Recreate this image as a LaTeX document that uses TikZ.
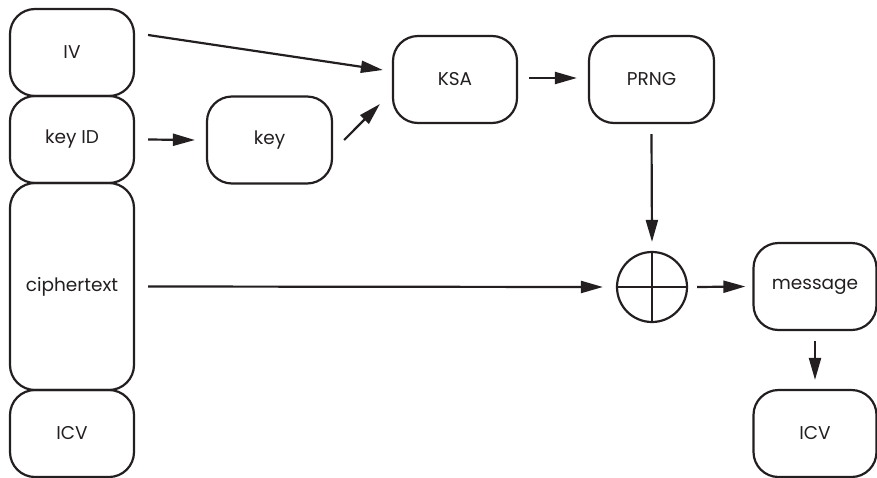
\documentclass[tikz,border=0pt]{standalone}
\usepackage{fontspec}
\setmainfont{Poppins}
\usetikzlibrary{arrows.meta,calc}
\definecolor{ink}{HTML}{231F20}
\begin{document}
\begin{tikzpicture}[x=1pt,y=-1pt,
  box/.style={draw=ink, line width=2.2pt, rounded corners=25pt, minimum width=124pt,
    minimum height=87pt, inner sep=0pt, text=ink, font=\fontsize{18.5}{21}\selectfont},
  conn/.style={draw=ink, line width=2.2pt, -{Triangle[length=22pt,width=12pt]}}]
\useasboundingbox (0,0) rectangle (877,477);
\node[box] (iv) at (72,52.5) {IV};
\node[box] (keyid) at (72,139.5) {key ID};
\node[box, minimum height=207pt] (ct) at (72,286.5) {ciphertext};
\node[box] (icvl) at (72,433.5) {ICV};
\node[box, minimum width=125pt] (key) at (269.5,140) {key};
\node[box] (ksa) at (455,79.5) {KSA};
\node[box, minimum width=125pt] (prng) at (651.5,79.5) {PRNG};
\node[circle, draw=ink, line width=2.2pt, minimum size=70pt, inner sep=0pt] (xor) at (652,287) {};
\draw[ink, line width=2.2pt] (xor.west) -- (xor.east) (xor.north) -- (xor.south);
\node[box, minimum width=123pt] (msg) at (815,286.5) {message};
\node[box, minimum width=123pt] (icvr) at (815,433.5) {ICV};
\draw[conn] ($(iv.east)+(13,-17.5)$) -- ($(ksa.west)+(-9,-9.5)$);
\draw[conn] ($(keyid.east)+(13,0)$) -- ($(key.west)+(-11,0)$);
\draw[conn] ($(key.east)+(11,0)$) -- ($(ksa.west)+(-12,24.5)$);
\draw[conn] ($(ksa.east)+(11,-1.5)$) -- ($(prng.west)+(-11,-1.5)$);
\draw[conn] ($(prng.south)+(0,10)$) -- ($(xor.north)+(0,-9)$);
\draw[conn] ($(ct.east)+(13,0)$) -- ($(xor.west)+(-13,0)$);
\draw[conn] ($(xor.east)+(9,0)$) -- ($(msg.west)+(-7,0)$);
\draw[conn] ($(msg.south)+(0,10)$) -- ($(icvr.north)+(0,-9)$);
\end{tikzpicture}
\end{document}
